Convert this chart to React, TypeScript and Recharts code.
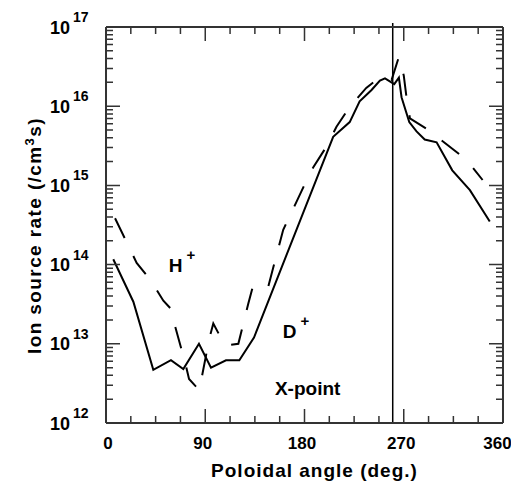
import { Line, LineChart, ReferenceDot, ReferenceLine, XAxis, YAxis } from 'recharts';

// D+ (solid) ion source rate vs poloidal angle
const dAngles = [6.6, 24.8, 42.9, 58.9, 70.1, 84.3, 95.2, 108.8, 120.9, 134.2, 176, 206, 221, 230, 240.8, 248.4, 253, 261.4, 265.6, 268, 275, 281.6, 289, 299.8, 314, 330, 348];
const dRates = [1.17e14, 3.4e13, 4.7e12, 6.2e12, 4.8e12, 1.0e13, 5.0e12, 6.2e12, 6.2e12, 1.2e13, 3.6e14, 4.1e15, 6.3e15, 1.15e16, 1.6e16, 2.1e16, 2.25e16, 1.9e16, 2.3e16, 1.3e16, 6.3e15, 4.8e15, 3.8e15, 3.5e15, 1.55e15, 8.7e14, 3.5e14];

// H+ (dashed)
const hAngles = [8.2, 27.8, 40, 52, 59.5, 61.5, 71.6, 75.3, 84.6, 93.6, 97.3, 107.9, 120, 129, 133.5, 147, 160.7, 179, 188, 200, 209, 221, 236, 247, 254, 259, 265.6, 270, 272.5, 275.6, 290.6, 308.8, 327, 341.5];
const hRates = [3.85e14, 1.05e14, 6.5e13, 3.5e13, 2.7e13, 1.9e13, 5.9e12, 3.6e12, 2.6e12, 1.15e13, 1.8e13, 9.5e12, 1.0e13, 3.2e13, 5.5e13, 5.2e13, 2.75e14, 9.5e14, 1.7e15, 3.1e15, 5.5e15, 9.8e15, 1.7e16, 2.25e16, 2.3e16, 2.15e16, 4.2e16, 2.45e16, 1.3e16, 7.0e15, 5.2e15, 3.3e15, 2.1e15, 1.17e15];

const xTicks = [0, 22.5, 45, 67.5, 90, 112.5, 135, 157.5, 180, 202.5, 225, 247.5, 270, 292.5, 315, 337.5, 360];
const yDecades = [12, 13, 14, 15, 16];
const yTicks = [...yDecades.flatMap((e) => [1, 2, 3, 4, 5, 6, 7, 8, 9].map((m) => m * 10 ** e)), 1e17];

const X_MIN = 0;
const X_MAX = 360;
const Y_MIN = 1e12;
const Y_MAX = 1e17;
const xPointAngle = 260;
// keep frame points a hair inside the domain (exact 1e17 gave an empty path)
const EPS = 1.0001;
const FRAME = '#333';

const dData = dAngles.map((angle, i) => ({ angle, d: dRates[i] }));
const hData = hAngles.map((angle, i) => ({ angle, h: hRates[i] }));

const PLOT_W = 397;
const PLOT_H = 396;
const MAJOR = 14;
const MINOR = 7;

const FONT = '"Liberation Sans", Arial, Helvetica, sans-serif';
const isMajorX = (v: number) => v % 90 === 0;
const isDecade = (v: number) => Math.abs(Math.log10(v) - Math.round(Math.log10(v))) < 1e-9;

const xLen = (px: number) => (px * (X_MAX - X_MIN)) / PLOT_W;
const yFactor = (px: number) => 10 ** ((px * Math.log10(Y_MAX / Y_MIN)) / PLOT_H);

const bottomEdge = [
  { angle: X_MIN, b: Y_MIN },
  { angle: X_MAX, b: Y_MIN },
];
const topEdge = [
  { angle: X_MIN + 0.01, t: Y_MAX / EPS },
  { angle: X_MAX - 0.01, t: Y_MAX / EPS },
];
const sideEdges = [
  { angle: X_MIN + 0.01, s: Y_MIN * EPS },
  { angle: X_MIN + 0.01, s: Y_MAX / EPS },
  { angle: X_MIN + 0.01, s: null },
  { angle: X_MAX - 0.01, s: Y_MIN * EPS },
  { angle: X_MAX - 0.01, s: Y_MAX / EPS },
];

// inward tick marks on all four sides, broken with nulls
const tickData: { angle: number; tk: number | null }[] = [];
xTicks
  .filter((v) => v > X_MIN && v < X_MAX)
  .forEach((v) => {
    const f = yFactor(isMajorX(v) ? MAJOR : MINOR);
    tickData.push({ angle: v, tk: Y_MIN * EPS }, { angle: v, tk: Y_MIN * f }, { angle: v, tk: null });
    tickData.push({ angle: v, tk: Y_MAX / EPS }, { angle: v, tk: Y_MAX / f }, { angle: v, tk: null });
  });
yTicks
  .filter((v) => v > Y_MIN && v < Y_MAX)
  .forEach((v) => {
    const d = xLen(isDecade(v) ? MAJOR : MINOR);
    tickData.push({ angle: X_MIN + 0.01, tk: v }, { angle: X_MIN + d, tk: v }, { angle: X_MIN + d, tk: null });
    tickData.push({ angle: X_MAX - 0.01, tk: v }, { angle: X_MAX - d, tk: v }, { angle: X_MAX - d, tk: null });
  });

const labelShift = (v: number) => (v === X_MIN ? 2 : v === X_MAX ? -5.5 : -2.5);

const BottomTick = ({ x, y, payload }: any) =>
  isMajorX(payload.value) ? (
    <text x={x + labelShift(payload.value)} y={y + 26} textAnchor="middle" fontSize={17} fontWeight="bold" fill="#000">
      {payload.value}
    </text>
  ) : (
    <g />
  );

const LeftTick = ({ x, y, payload }: any) => {
  if (!isDecade(payload.value)) return <g />;
  const exp = Math.round(Math.log10(payload.value));
  return (
    <g fontWeight="bold" fill="#000">
      <text x={x - 36} y={y + 6.5} textAnchor="end" fontSize={18}>10</text>
      <text x={x - 33} y={y - 5} textAnchor="start" fontSize={14}>{exp}</text>
    </g>
  );
};

const XTitle = ({ viewBox }: any) => (
  <text
    x={viewBox.x + viewBox.width / 2 + 10}
    y={469}
    textAnchor="middle"
    fontSize={19}
    fontWeight="bold"
    letterSpacing={1}
    fill="#000"
  >
    Poloidal angle (deg.)
  </text>
);

const YTitle = () => {
  const cx = 33;
  const cy = 346;
  return (
    <text
      x={cx}
      y={cy}
      transform={`rotate(-90, ${cx}, ${cy})`}
      textAnchor="start"
      fontSize={19}
      fontWeight="bold"
      letterSpacing={1.4}
      fill="#000"
    >
      Ion source rate (/cm
      <tspan dy={-7} fontSize={13}>3</tspan>
      <tspan dy={7}>s)</tspan>
    </text>
  );
};

const IonLabel = ({ cx, cy, text }: any) => (
  <text x={cx} y={cy} fontSize={19} fontWeight="bold" fill="#000">
    {text}
    <tspan dx={4} dy={-12} fontSize={15}>+</tspan>
  </text>
);

const PlainLabel = ({ cx, cy, text }: any) => (
  <text x={cx} y={cy} fontSize={19} fontWeight="bold" fill="#000">
    {text}
  </text>
);

export default function App() {
  return (
    <div style={{ fontFamily: FONT, width: 511, height: 479 }}>
      <LineChart width={511} height={479} margin={{ top: 19, right: 16, bottom: 0, left: 0 }}>
        <XAxis
          dataKey="angle"
          type="number"
          domain={[X_MIN, X_MAX]}
          ticks={xTicks}
          interval={0}
          height={64}
          tickSize={0}
          tickMargin={0}
          tickLine={false}
          axisLine={false}
          tick={<BottomTick />}
          label={<XTitle />}
        />
        <YAxis
          type="number"
          scale="log"
          domain={[Y_MIN, Y_MAX]}
          ticks={yTicks}
          interval={0}
          width={98}
          tickSize={0}
          tickMargin={0}
          tickLine={false}
          axisLine={false}
          tick={<LeftTick />}
          label={<YTitle />}
        />
        <ReferenceLine
          segment={[
            { x: xPointAngle, y: Y_MIN },
            { x: xPointAngle, y: Y_MAX * yFactor(4) },
          ]}
          stroke="#000"
          strokeWidth={1.5}
          ifOverflow="visible"
        />
        <Line data={hData} dataKey="h" stroke="#000" strokeWidth={2} strokeDasharray="22 20" dot={false} isAnimationActive={false} type="linear" />
        <Line data={dData} dataKey="d" stroke="#000" strokeWidth={2} dot={false} isAnimationActive={false} type="linear" />
        <Line data={bottomEdge} dataKey="b" stroke={FRAME} strokeWidth={2} dot={false} isAnimationActive={false} type="linear" />
        <Line data={topEdge} dataKey="t" stroke={FRAME} strokeWidth={2} dot={false} isAnimationActive={false} type="linear" />
        <Line data={sideEdges} dataKey="s" stroke={FRAME} strokeWidth={2} dot={false} isAnimationActive={false} type="linear" />
        <Line data={tickData} dataKey="tk" stroke={FRAME} strokeWidth={1.5} dot={false} isAnimationActive={false} type="linear" />
        <ReferenceDot x={57} y={8e13} r={0} ifOverflow="visible" shape={(p: any) => <IonLabel {...p} text="H" />} />
        <ReferenceDot x={160.2} y={1.2e13} r={0} ifOverflow="visible" shape={(p: any) => <IonLabel {...p} text="D" />} />
        <ReferenceDot x={153.2} y={2.26e12} r={0} ifOverflow="visible" shape={(p: any) => <PlainLabel {...p} text="X-point" />} />
      </LineChart>
    </div>
  );
}
